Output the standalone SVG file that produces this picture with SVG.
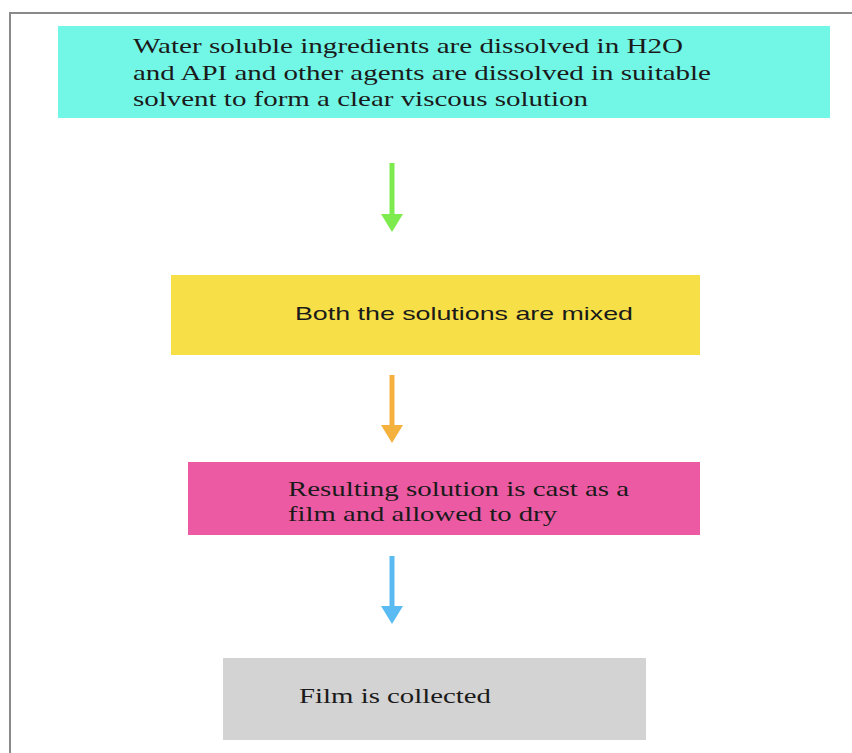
<svg xmlns="http://www.w3.org/2000/svg" width="852" height="753" viewBox="0 0 852 753">
<style>
.serif{font-family:"Liberation Serif","Times New Roman",serif;font-size:21px;fill:#1a1a1a}
.sans{font-family:"Liberation Sans",Arial,sans-serif;font-size:19px;fill:#1a1a1a}
.shaft{stroke-width:5;fill:none}
</style>
<rect x="0" y="0" width="852" height="753" fill="#ffffff"/>
<path d="M10,753 V13 H852" fill="none" stroke="#8a8a8a" stroke-width="2"/>
<g id="n1">
<rect x="58" y="26" width="772" height="92" fill="#72F7E6"/>
<text class="serif" x="133" y="53" textLength="550" lengthAdjust="spacingAndGlyphs">Water soluble ingredients are dissolved in H2O</text>
<text class="serif" x="133" y="80" textLength="578" lengthAdjust="spacingAndGlyphs">and API and other agents are dissolved in suitable</text>
<text class="serif" x="133" y="106" textLength="455" lengthAdjust="spacingAndGlyphs">solvent to form a clear viscous solution</text>
</g>
<g id="n2">
<rect x="171" y="275" width="529" height="80" fill="#F7DF48"/>
<text class="sans" x="295" y="320" textLength="338" lengthAdjust="spacingAndGlyphs">Both the solutions are mixed</text>
</g>
<g id="n3">
<rect x="188" y="462" width="512" height="73" fill="#EB5AA3"/>
<text class="serif" x="288" y="496" textLength="341" lengthAdjust="spacingAndGlyphs">Resulting solution is cast as a</text>
<text class="serif" x="288" y="521" textLength="269" lengthAdjust="spacingAndGlyphs">film and allowed to dry</text>
</g>
<g id="n4">
<rect x="223" y="658" width="423" height="82" fill="#D3D3D3"/>
<text class="serif" x="299" y="703" textLength="192" lengthAdjust="spacingAndGlyphs">Film is collected</text>
</g>
<g id="connectors">
<line class="shaft" x1="392" y1="163" x2="392" y2="216" stroke="#7DEB4E"/>
<polygon points="381,214 403,214 392,232" fill="#7DEB4E"/>
<line class="shaft" x1="392" y1="375" x2="392" y2="427" stroke="#F4B13E"/>
<polygon points="381,425 403,425 392,443" fill="#F4B13E"/>
<line class="shaft" x1="392" y1="556" x2="392" y2="608" stroke="#5ABBF2"/>
<polygon points="381,606 403,606 392,624" fill="#5ABBF2"/>
</g>
</svg>
